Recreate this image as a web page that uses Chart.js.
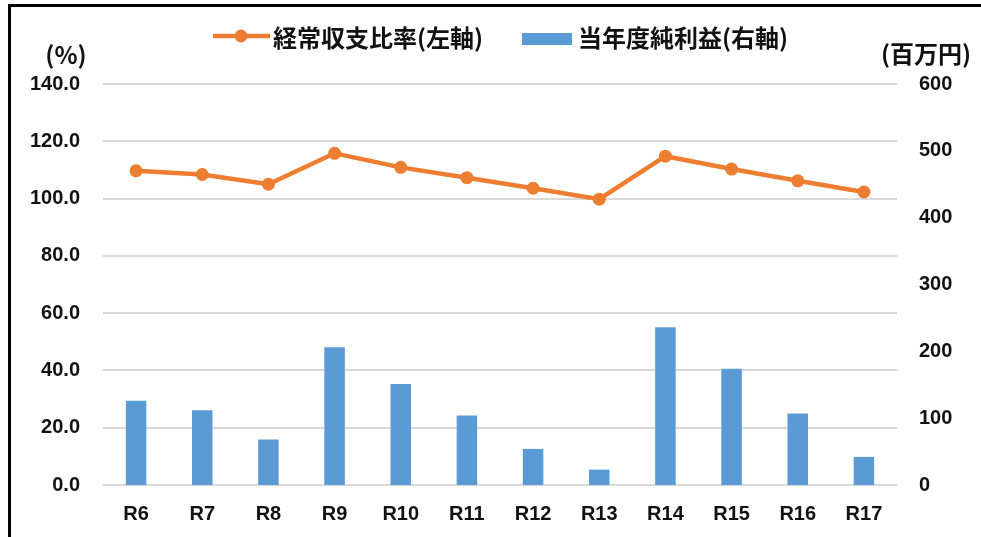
<!DOCTYPE html>
<html lang="ja">
<head>
<meta charset="utf-8">
<title>経常収支比率と当年度純利益</title>
<script src="https://cdn.jsdelivr.net/npm/chart.js@4.4.1/dist/chart.umd.min.js"></script>
<style>
  html, body { margin: 0; padding: 0; background: #fff; }
  .wrap { position: relative; width: 981px; height: 537px; overflow: hidden; }
  .frame {
    position: absolute; left: 8px; top: 4px; width: 1000px; height: 600px;
    border-left: 3px solid #000; border-top: 3px solid #000;
    pointer-events: none;
  }
  canvas { position: absolute; left: 0; top: 0; }
</style>
</head>
<body>
<div class="wrap">
  <canvas id="chart" width="981" height="537"></canvas>
  <div class="frame"></div>
</div>
<script>
const categories = ["R6", "R7", "R8", "R9", "R10", "R11", "R12", "R13", "R14", "R15", "R16", "R17"];
const ratioValues = [109.7, 108.4, 105.0, 115.8, 110.9, 107.3, 103.6, 99.8, 114.8, 110.3, 106.2, 102.3];
const profitValues = [126, 112, 68, 206, 151, 104, 54, 23, 236, 174, 107, 42];
const ratioLabel = "経常収支比率(左軸)";
const profitLabel = "当年度純利益(右軸)";

const orange = "#ED7D31";
const blue = "#5B9BD5";
const tickFont = { family: "'Liberation Sans', Arial, sans-serif", size: 20, weight: "bold" };
const cjkFont = "bold 24px 'Noto Sans CJK JP', 'Liberation Sans', sans-serif";

// legend + axis unit titles, drawn on the canvas
const extras = {
  id: "extras",
  afterDraw(chart) {
    const ctx = chart.ctx;
    const area = chart.chartArea;
    ctx.save();
    ctx.fillStyle = "#111";
    ctx.textBaseline = "middle";
    ctx.font = cjkFont;

    ctx.textAlign = "center";
    ctx.fillText("(%)", 66, 55);
    ctx.fillText("(百万円)", 926, 54);

    // line legend
    ctx.strokeStyle = orange;
    ctx.lineWidth = 4.5;
    ctx.beginPath();
    ctx.moveTo(213, 36);
    ctx.lineTo(270, 36);
    ctx.stroke();
    ctx.fillStyle = orange;
    ctx.beginPath();
    ctx.arc(241, 36, 6.5, 0, Math.PI * 2);
    ctx.fill();

    // bar legend
    ctx.fillStyle = blue;
    ctx.fillRect(522, 33, 50, 12);

    ctx.fillStyle = "#111";
    ctx.textAlign = "left";
    ctx.fillText(ratioLabel, 273, 38);
    ctx.fillText(profitLabel, 578, 38);
    ctx.restore();
  }
};

new Chart(document.getElementById("chart"), {
  data: {
    labels: categories,
    datasets: [
      {
        type: "line",
        label: ratioLabel,
        data: ratioValues,
        yAxisID: "y",
        borderColor: orange,
        backgroundColor: orange,
        borderWidth: 4.5,
        pointRadius: 6.5,
        pointHoverRadius: 6.5,
        pointBorderWidth: 0,
        tension: 0,
        order: 0,
      },
      {
        type: "bar",
        label: profitLabel,
        data: profitValues,
        yAxisID: "y1",
        backgroundColor: blue,
        barPercentage: 0.31,
        categoryPercentage: 1,
        order: 1,
      },
    ],
  },
  options: {
    responsive: false,
    animation: false,
    layout: { padding: { top: 84, left: 0, right: 0, bottom: 0 } },
    plugins: {
      legend: { display: false },
      tooltip: { enabled: false },
    },
    scales: {
      x: {
        grid: { display: false, drawTicks: false },
        border: { display: false },
        ticks: { color: "#111", font: tickFont, padding: 17 },
        afterFit(scale) { scale.height = 52; },
      },
      y: {
        position: "left",
        min: 0,
        max: 140,
        grid: { color: "#d9d9d9", lineWidth: 2, drawTicks: false },
        border: { display: false },
        ticks: {
          stepSize: 20,
          color: "#111",
          font: tickFont,
          padding: 23,
          callback: (v) => v.toFixed(1),
        },
        afterFit(scale) { scale.width = 103; },
      },
      y1: {
        position: "right",
        min: 0,
        max: 600,
        grid: { display: false, drawTicks: false },
        border: { display: false },
        ticks: { stepSize: 100, color: "#111", font: tickFont, padding: 22 },
        afterFit(scale) { scale.width = 84; },
      },
    },
  },
  plugins: [extras],
});
</script>
</body>
</html>
